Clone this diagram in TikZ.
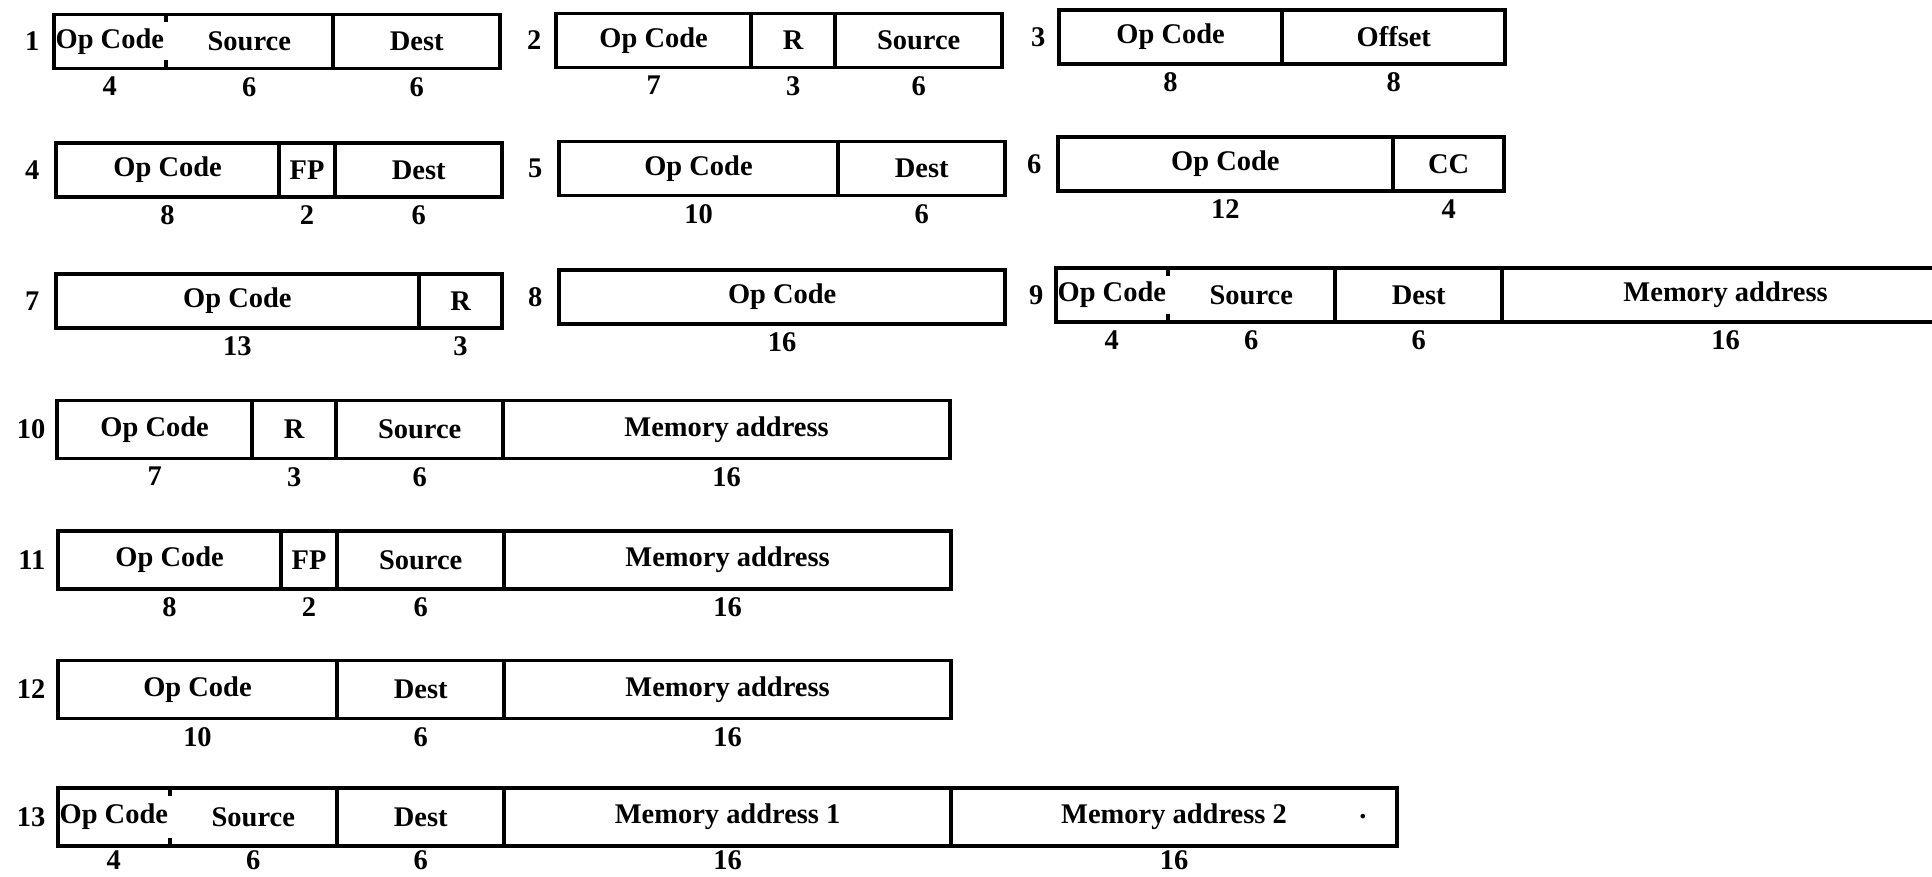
\documentclass[tikz,border=0pt]{standalone}
\usepackage{fontspec}
\setmainfont{Liberation Serif}
\begin{document}
\begin{tikzpicture}[x=0.1mm,y=-0.1mm,font=\fontsize{8.1}{10}\selectfont\bfseries,
    field/.style={minimum width=#1*2.79mm,minimum height=5.4mm,inner sep=0pt,outer sep=0pt,anchor=west},
    tall/.style={minimum height=5.8mm},
    fmtnum/.style={anchor=east,inner sep=0pt},
    bitnum/.style={inner sep=0pt,label distance=0.8mm},
    frame/.style={line width=1.1pt}]
    \useasboundingbox (0,0) rectangle (1932,877);
    \clip (0,0) rectangle (1932,877);
    % row 1
    \node[fmtnum] (n1) at (40,41.5) {1};
    \node[field=4,label={[bitnum]below:4}] (f1op) at (54,41.5) {Op Code};
    \node[field=6,label={[bitnum]below:6}] (f1src) at (165.6,41.5) {Source};
    \node[field=6,label={[bitnum]below:6}] (f1dst) at (333,41.5) {Dest};
    \draw[frame] (f1op.north west) rectangle (f1dst.south east)
        (f1op.north east) -- ++(0,8) (f1op.south east) -- ++(0,-8)
        (f1dst.north west) -- (f1dst.south west);
    \node[fmtnum] (n2) at (542,40.5) {2};
    \node[field=7,label={[bitnum]below:7}] (f2op) at (556,40.5) {Op Code};
    \node[field=3,label={[bitnum]below:3}] (f2r) at (751.3,40.5) {R};
    \node[field=6,label={[bitnum]below:6}] (f2src) at (835,40.5) {Source};
    \draw[frame] (f2op.north west) rectangle (f2src.south east)
        (f2r.north west) -- (f2r.south west) (f2src.north west) -- (f2src.south west);
    \node[fmtnum] (n3) at (1046,37) {3};
    \node[field=8,label={[bitnum]below:8}] (f3op) at (1059,37) {Op Code};
    \node[field=8,label={[bitnum]below:8}] (f3off) at (1282.2,37) {Offset};
    \draw[frame] (f3op.north west) rectangle (f3off.south east)
        (f3off.north west) -- (f3off.south west);
    % row 2
    \node[fmtnum] (n4) at (40,170) {4};
    \node[field=8,label={[bitnum]below:8}] (f4op) at (56,170) {Op Code};
    \node[field=2,label={[bitnum]below:2}] (f4fp) at (279.2,170) {FP};
    \node[field=6,label={[bitnum]below:6}] (f4dst) at (335,170) {Dest};
    \draw[frame] (f4op.north west) rectangle (f4dst.south east)
        (f4fp.north west) -- (f4fp.south west) (f4dst.north west) -- (f4dst.south west);
    \node[fmtnum] (n5) at (543,168.5) {5};
    \node[field=10,label={[bitnum]below:10}] (f5op) at (559,168.5) {Op Code};
    \node[field=6,label={[bitnum]below:6}] (f5dst) at (838,168.5) {Dest};
    \draw[frame] (f5op.north west) rectangle (f5dst.south east)
        (f5dst.north west) -- (f5dst.south west);
    \node[fmtnum] (n6) at (1042,164) {6};
    \node[field=12,label={[bitnum]below:12}] (f6op) at (1058,164) {Op Code};
    \node[field=4,label={[bitnum]below:4}] (f6cc) at (1392.8,164) {CC};
    \draw[frame] (f6op.north west) rectangle (f6cc.south east)
        (f6cc.north west) -- (f6cc.south west);
    % row 3
    \node[fmtnum] (n7) at (40,301) {7};
    \node[field=13,label={[bitnum]below:13}] (f7op) at (56,301) {Op Code};
    \node[field=3,label={[bitnum]below:3}] (f7r) at (418.7,301) {R};
    \draw[frame] (f7op.north west) rectangle (f7r.south east)
        (f7r.north west) -- (f7r.south west);
    \node[fmtnum] (n8) at (543,297) {8};
    \node[field=16,label={[bitnum]below:16}] (f8op) at (559,297) {Op Code};
    \draw[frame] (f8op.north west) rectangle (f8op.south east);
    \node[fmtnum] (n9) at (1044,295) {9};
    \node[field=4,label={[bitnum]below:4}] (f9op) at (1056,295) {Op Code};
    \node[field=6,label={[bitnum]below:6}] (f9src) at (1167.6,295) {Source};
    \node[field=6,label={[bitnum]below:6}] (f9dst) at (1335,295) {Dest};
    \node[field=16,label={[bitnum]below:16}] (f9mem) at (1502.4,295) {Memory address};
    \draw[frame] (f9op.north west) rectangle (f9mem.south east)
        (f9op.north east) -- ++(0,8) (f9op.south east) -- ++(0,-8)
        (f9dst.north west) -- (f9dst.south west) (f9mem.north west) -- (f9mem.south west);
    % row 4
    \node[fmtnum] (n10) at (46,429.5) {10};
    \node[field=7,tall,label={[bitnum]below:7}] (f10op) at (57,429.5) {Op Code};
    \node[field=3,tall,label={[bitnum]below:3}] (f10r) at (252.3,429.5) {R};
    \node[field=6,tall,label={[bitnum]below:6}] (f10src) at (336,429.5) {Source};
    \node[field=16,tall,label={[bitnum]below:16}] (f10mem) at (503.4,429.5) {Memory address};
    \draw[frame] (f10op.north west) rectangle (f10mem.south east)
        (f10r.north west) -- (f10r.south west) (f10src.north west) -- (f10src.south west)
        (f10mem.north west) -- (f10mem.south west);
    % row 5
    \node[fmtnum] (n11) at (46,560) {11};
    \node[field=8,tall,label={[bitnum]below:8}] (f11op) at (58,560) {Op Code};
    \node[field=2,tall,label={[bitnum]below:2}] (f11fp) at (281.2,560) {FP};
    \node[field=6,tall,label={[bitnum]below:6}] (f11src) at (337,560) {Source};
    \node[field=16,tall,label={[bitnum]below:16}] (f11mem) at (504.4,560) {Memory address};
    \draw[frame] (f11op.north west) rectangle (f11mem.south east)
        (f11fp.north west) -- (f11fp.south west) (f11src.north west) -- (f11src.south west)
        (f11mem.north west) -- (f11mem.south west);
    % row 6
    \node[fmtnum] (n12) at (46,689.5) {12};
    \node[field=10,tall,label={[bitnum]below:10}] (f12op) at (58,689.5) {Op Code};
    \node[field=6,tall,label={[bitnum]below:6}] (f12dst) at (337,689.5) {Dest};
    \node[field=16,tall,label={[bitnum]below:16}] (f12mem) at (504.4,689.5) {Memory address};
    \draw[frame] (f12op.north west) rectangle (f12mem.south east)
        (f12dst.north west) -- (f12dst.south west) (f12mem.north west) -- (f12mem.south west);
    % row 7
    \node[fmtnum] (n13) at (46,817) {13};
    \node[field=4,tall,label={[bitnum,label distance=0.4mm]below:4}] (f13op) at (58,817) {Op Code};
    \node[field=6,tall,label={[bitnum,label distance=0.4mm]below:6}] (f13src) at (169.6,817) {Source};
    \node[field=6,tall,label={[bitnum,label distance=0.4mm]below:6}] (f13dst) at (337,817) {Dest};
    \node[field=16,tall,label={[bitnum,label distance=0.4mm]below:16}] (f13mema) at (504.4,817) {Memory address 1};
    \node[field=16,tall,label={[bitnum,label distance=0.4mm]below:16}] (f13memb) at (950.8,817) {Memory address 2};
    \node[inner sep=0pt] (f13dot) at (1363,817) {.};
    \draw[frame] (f13op.north west) rectangle (f13memb.south east)
        (f13op.north east) -- ++(0,8) (f13op.south east) -- ++(0,-8)
        (f13dst.north west) -- (f13dst.south west) (f13mema.north west) -- (f13mema.south west)
        (f13memb.north west) -- (f13memb.south west);
\end{tikzpicture}
\end{document}
